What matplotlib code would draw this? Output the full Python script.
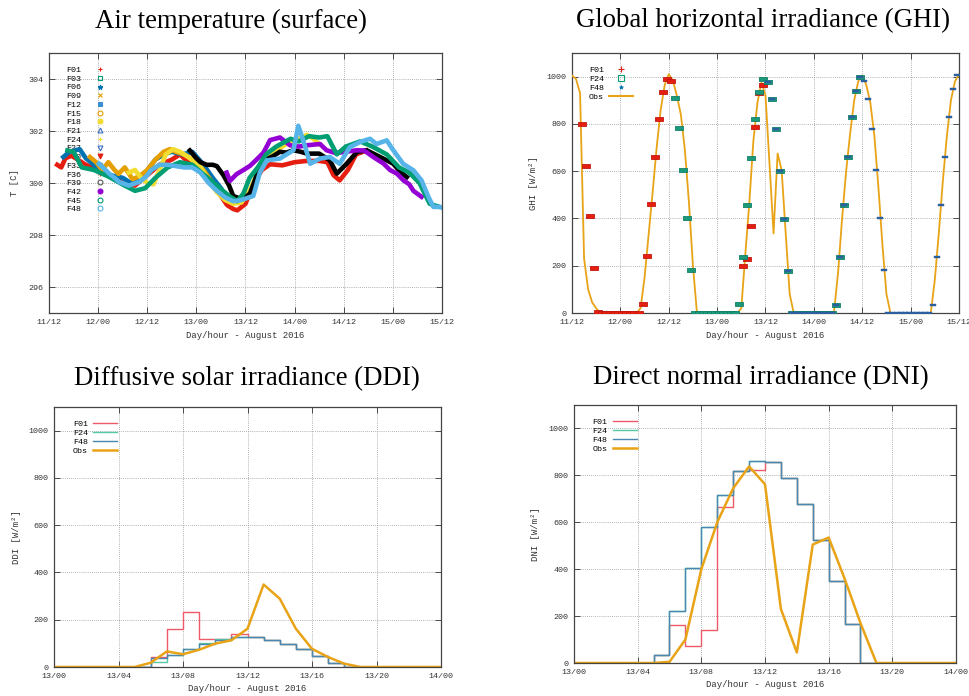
import matplotlib
matplotlib.use("Agg")
import matplotlib.pyplot as plt
from matplotlib.lines import Line2D

MONO = "Liberation Mono"
SERIF = "Liberation Serif"

RED = "#e51e10"
GREEN = "#009e73"
BLUE = "#0072b2"
ORANGE = "#e69f00"
YELLOW = "#f2dc30"
PURPLE = "#9400d3"
LBLUE = "#56b4e9"
OBS = "#e8a317"

# ---------- air temperature, hours after 11 Aug 12:00 ----------
t01_h = [2, 3, 4, 5.5, 7, 9, 12, 15, 18, 21, 24, 27, 30, 32, 34, 36, 38, 40, 42, 43.5,
         45, 46, 48, 50, 52, 54, 57, 60, 63, 66, 68, 69.5, 71, 73, 75, 77.5]
t01_T = [300.7, 300.6, 300.95, 301.05, 300.9, 300.7, 300.5, 300.3, 300.0, 299.9,
         300.3, 300.7, 300.9, 301.1, 300.8, 300.65, 300.4, 300.0, 299.5, 299.15,
         299.0, 298.95, 299.2, 300.0, 300.5, 300.72, 300.68, 300.8, 300.85, 300.85,
         300.8, 300.3, 300.1, 300.5, 301.1, 301.25]

t06_h = [3.5, 5, 7.5, 9, 10.6, 12.2, 15, 18, 20, 22, 23.6, 26, 28, 30, 32.6, 35, 37.5, 40, 42]
t06_T = [301.0, 301.2, 301.3, 300.95, 300.75, 300.5, 300.3, 300.2, 300.0, 300.1,
         300.4, 300.9, 301.1, 301.2, 301.1, 301.2, 300.75, 300.2, 299.8]

t09_h = [10, 11.5, 13, 14.5, 16, 17, 18.5, 20.4, 22, 24, 26, 28, 29.5, 31, 33, 35, 37.7, 40, 42.6, 45]
t09_T = [301.0, 300.8, 300.5, 300.8, 300.5, 300.35, 300.6, 300.15, 300.25, 300.5,
         300.9, 301.2, 301.3, 301.2, 301.1, 300.9, 300.5, 300.0, 299.5, 299.25]

t18_h = [19.5, 21, 22.5, 24, 25.5, 27, 28.5, 30.3, 32, 34, 36.9, 39, 41, 43, 45, 47, 49,
         51, 53, 55, 57, 59, 61, 63, 64.6, 66]
t18_T = [300.4, 300.5, 300.2, 300.0, 299.95, 300.5, 301.1, 301.3, 301.2, 301.0,
         300.65, 300.1, 299.65, 299.35, 299.2, 299.25, 299.7, 300.4, 300.9, 301.2,
         301.4, 301.6, 301.7, 301.85, 301.7, 301.5]

t33_h = [34.4, 36, 37, 38.5, 40, 41, 42.6, 44, 45, 46.7, 48, 49.1, 50.5, 51.5, 53, 54.8,
         56.4, 58, 59.7, 61.5, 63, 66, 68.6, 70.3, 72.7, 75.2, 77.6, 80.9, 84.1, 86, 87.4]
t33_T = [301.25, 300.95, 300.8, 300.7, 300.7, 300.65, 300.3, 299.9, 299.5, 299.4,
         299.45, 299.6, 300.2, 300.66, 300.9, 301.04, 301.2, 301.17, 301.26, 301.2,
         301.13, 301.13, 300.87, 300.36, 300.74, 301.19, 301.26, 301.0, 300.74, 300.4,
         300.23]

t42_h = [43.4, 44.2, 45.8, 47.5, 49.1, 50.7, 52.4, 54, 56.4, 58.9, 61, 63, 66.2, 67.8,
         70, 72.5, 75.2, 77, 79.2, 81.7, 83.3, 85, 86.6, 88, 89, 91]
t42_T = [300.4, 300.08, 300.34, 300.5, 300.66, 300.9, 301.17, 301.65, 301.75, 301.45,
         301.4, 301.45, 301.5, 301.26, 301.15, 301.2, 301.26, 301.25, 301.0, 300.75,
         300.5, 300.36, 300.1, 299.95, 299.7, 299.47]

t45_h = [4.5, 6, 8, 11, 14.5, 18.5, 21, 23.5, 26, 29, 32, 35, 38, 41, 44, 46, 47.5, 49,
         51, 53, 55.5, 59, 61, 63.5, 66, 68, 70.3, 72.5, 76, 79, 82.5, 85.5, 88, 90.5, 93, 95]
t45_T = [301.25, 301.2, 300.6, 300.5, 300.25, 299.9, 299.7, 299.8, 300.2, 300.6,
         300.8, 300.7, 300.3, 299.9, 299.5, 299.3, 299.6, 300.2, 300.6, 301.1,
         301.4, 301.7, 301.6, 301.8, 301.75, 301.8, 301.1, 301.4, 301.6, 301.4,
         301.1, 300.6, 300.4, 300.0, 299.2, 299.1]

t48_h = [12.2, 13.5, 14.7, 16, 17.1, 19.5, 22, 23.6, 25, 27, 29, 31, 33, 35, 37, 39, 41,
         43, 45, 46.65, 48, 49.9, 51.5, 53.2, 56.4, 59.7, 60.9, 62.1, 63.8, 66.2, 68.6,
         71, 73.5, 76, 78.4, 80, 82.5, 84.1, 86.5, 89, 91, 92.7, 93.9, 95.5, 96]
t48_T = [300.74, 300.55, 300.36, 300.2, 300.04, 299.9, 300.04, 300.23, 300.5, 300.7,
         300.7, 300.65, 300.6, 300.6, 300.4, 300.0, 299.7, 299.45, 299.3, 299.33,
         299.4, 299.5, 300.4, 300.87, 300.94, 301.26, 302.2, 301.64, 300.74, 300.94,
         301.0, 300.74, 301.38, 301.58, 301.7, 301.5, 301.64, 301.26, 300.74, 300.49,
         300.1, 299.46, 299.08, 299.08, 299.05]

temp_key = ["F01", "F03", "F06", "F09", "F12", "F15", "F18", "F21", "F24", "F27",
            "F30", "F33", "F36", "F39", "F42", "F45", "F48"]
temp_key_style = [("+", RED, True), ("s", GREEN, False), ("*", BLUE, True), ("x", ORANGE, True),
                  ("s", "#3a8fd0", True), ("o", ORANGE, False), ("o", YELLOW, True),
                  ("^", "#3a70c0", False), ("+", YELLOW, True), ("v", "#3a70c0", False),
                  ("v", RED, True), ("o", "#555555", False), ("+", RED, True),
                  ("o", "#555555", False), ("o", PURPLE, True), ("o", GREEN, False),
                  ("o", LBLUE, False)]

# ---------- GHI, hours after 11 Aug 12:00 ----------
ghi_obs = [1005, 990, 930, 230, 100, 45, 20, 0,
           0, 0, 0, 0, 0, 0, 0, 0, 0,
           20, 150, 330, 510, 700, 860, 965, 1010,
           985, 920, 840, 690, 470, 200, 0,
           0, 0, 0, 0, 0, 0, 0, 0, 0, 0,
           20, 250, 470, 730, 890, 975, 920, 630, 337, 675, 605, 340, 80, 0,
           0, 0, 0, 0, 0, 0, 0, 0, 0,
           5, 170, 400, 600, 760, 900, 980, 1005, 965, 890, 750, 534, 290, 80, 0,
           0, 0, 0, 0, 0, 0, 0, 0, 0,
           0, 140, 340, 560, 750, 900, 980, 1010]
ghi_obs_h = list(range(len(ghi_obs)))

ghi_f01_h = [2.5, 3.5, 4.5, 5.5, 6.5, 7.5, 8.5, 9.5, 10.5, 11.5, 12.5, 13.5, 14.5, 15.5,
             16.5, 17.5, 18.5, 19.5, 20.5, 21.5, 22.5, 23.5, 24.5,
             42.5, 43.5, 44.5, 45.5, 46.5, 47.5]
ghi_f01 = [800, 620, 410, 190, 5, 0, 0, 0, 0, 0, 0, 0, 0, 0,
           0, 40, 240, 460, 660, 822, 935, 990, 980,
           200, 230, 370, 788, 930, 965]

ghi_f24_h = [25.5, 26.5, 27.5, 28.5, 29.5, 30.5, 31.5, 32.5, 33.5, 34.5, 35.5, 36.5, 37.5,
             38.5, 39.5, 40.5, 41.5, 42.5, 43.5, 44.5, 45.5, 46.5, 47.5, 48.5, 49.5, 50.5,
             51.5, 52.5, 53.5, 54.5, 55.5, 56.5, 57.5, 58.5, 59.5, 60.5, 61.5, 62.5, 63.5,
             64.5, 65.5, 66.5, 67.5, 68.5, 69.5, 70.5, 71.5]
ghi_f24 = [908, 781, 605, 400, 181, 0, 0, 0, 0, 0, 0, 0, 0,
           0, 0, 0, 36, 237, 456, 654, 819, 936, 988, 977, 904, 777,
           600, 396, 178, 0, 0, 0, 0, 0, 0, 0, 0, 0, 0,
           0, 35, 239, 459, 661, 828, 941, 997]

ghi_f48_h = [48.5, 49.5, 50.5, 51.5, 52.5, 53.5, 54.5, 55.5, 56.5, 57.5, 58.5, 59.5, 60.5,
             61.5, 62.5, 63.5, 64.5, 65.5, 66.5, 67.5, 68.5, 69.5, 70.5, 71.5, 72.5, 73.5,
             74.5, 75.5, 76.5, 77.5, 78.5, 79.5, 80.5, 81.5, 82.5, 83.5, 84.5, 85.5, 86.5,
             87.5, 88.5, 89.5, 90.5, 91.5, 92.5, 93.5, 94.5, 95.5]
ghi_f48 = [977, 904, 777, 600, 396, 178, 0, 0, 0, 0, 0, 0, 0,
           0, 0, 0, 0, 35, 239, 459, 661, 828, 941, 997, 983, 906,
           777, 605, 400, 181, 0, 0, 0, 0, 0, 0, 0, 0, 0,
           0, 0, 32, 237, 459, 661, 828, 946, 1007]

top_ticks = [0, 12, 24, 36, 48, 60, 72, 84, 96]
top_labels = ["11/12", "12/00", "12/12", "13/00", "13/12", "14/00", "14/12", "15/00", "15/12"]

# ---------- DDI / DNI, hours of 13 Aug ----------
day_h = list(range(25))
ddi_f01 = [0, 0, 0, 0, 0, 0, 42, 161, 232, 120, 117, 138, 125, 116, 98, 77, 45, 15, 2, 0, 0, 0, 0, 0, 0]
ddi_f24 = [0, 0, 0, 0, 0, 0, 20, 52, 78, 100, 118, 127, 125, 116, 98, 77, 45, 15, 2, 0, 0, 0, 0, 0, 0]
ddi_f48 = [0, 0, 0, 0, 0, 0, 38, 50, 75, 98, 115, 125, 125, 116, 98, 77, 45, 15, 2, 0, 0, 0, 0, 0, 0]
ddi_obs = [0, 0, 0, 0, 0, 0, 18, 66, 54, 73, 99, 113, 162, 349, 289, 162, 77, 42, 14, 0, 0, 0, 0, 0, 0]

dni_f01 = [0, 0, 0, 0, 0, 35, 160, 72, 140, 667, 817, 825, 855, 790, 677, 524, 348, 165, 0, 0, 0, 0, 0, 0, 0]
dni_f24 = [0, 0, 0, 0, 0, 35, 220, 405, 578, 718, 817, 862, 855, 790, 677, 524, 348, 165, 0, 0, 0, 0, 0, 0, 0]
dni_f48 = [0, 0, 0, 0, 0, 35, 220, 405, 578, 718, 817, 862, 855, 790, 677, 524, 348, 165, 0, 0, 0, 0, 0, 0, 0]
dni_obs = [0, 0, 0, 0, 0, 0, 5, 100, 400, 600, 745, 838, 762, 230, 45, 505, 535, 360, 170, 0, 0, 0, 0, 0, 0]

day_ticks = [0, 4, 8, 12, 16, 20, 24]
day_labels = ["13/00", "13/04", "13/08", "13/12", "13/16", "13/20", "14/00"]
irr_ticks = [0, 200, 400, 600, 800, 1000]

W, H = 970, 696
fig = plt.figure(figsize=(W / 100, H / 100), dpi=100)


def rect(l, t, r, b):
    return [l / W, 1 - b / H, (r - l) / W, (b - t) / H]


def style(ax):
    ax.grid(True, color="#9a9a9a", ls=(0, (1, 1.5)), lw=0.6)
    ax.set_axisbelow(True)
    for s in ax.spines.values():
        s.set_color("#444444")
        s.set_linewidth(0.9)
    ax.tick_params(direction="in", length=4, width=0.6, top=True, right=True,
                   labelsize=6, colors="#333333", pad=4)
    for lab in ax.get_xticklabels() + ax.get_yticklabels():
        lab.set_family(MONO)


def labels(ax, xl, yl, xly, ylx):
    ax.set_xlabel(xl, family=MONO, fontsize=6.5, color="#333333", va="center")
    ax.set_ylabel(yl, family=MONO, fontsize=6.5, color="#333333", va="center")
    ax.xaxis.set_label_coords(0.5, xly)
    ax.yaxis.set_label_coords(ylx, 0.5)


# ---- Air temperature ----
ax1 = fig.add_axes(rect(49, 53, 442, 313))
lw = 3.3
ax1.plot(t01_h, t01_T, color=RED, lw=lw, zorder=2)
ax1.plot(t06_h, t06_T, color=BLUE, lw=lw, zorder=2)
ax1.plot(t09_h, t09_T, color=ORANGE, lw=lw, zorder=2)
ax1.plot(t18_h, t18_T, color=YELLOW, lw=lw, zorder=2)
ax1.plot(t33_h, t33_T, color="black", lw=lw, zorder=2)
ax1.plot(t42_h, t42_T, color=PURPLE, lw=lw, zorder=2)
ax1.plot(t45_h, t45_T, color=GREEN, lw=lw, zorder=2)
ax1.plot(t48_h, t48_T, color=LBLUE, lw=lw, zorder=2)
ax1.set_xlim(0, 96)
ax1.set_ylim(295, 305)
ax1.set_xticks(top_ticks)
ax1.set_xticklabels(top_labels)
ax1.set_yticks([296, 298, 300, 302, 304])
style(ax1)
labels(ax1, "Day/hour - August 2016", "T [C]", -0.088, -0.087)
handles = [Line2D([], [], ls="none", marker=m, color=c, markerfacecolor=(c if f else "none"),
                  markersize=3.5, markeredgewidth=0.8) for m, c, f in temp_key_style]
leg = ax1.legend(handles, temp_key, loc="upper left", bbox_to_anchor=(0.036, 0.962),
                 frameon=False, markerfirst=False, handlelength=1.0, handletextpad=1.7,
                 labelspacing=0.105, borderaxespad=0, prop={"family": MONO, "size": 6})
leg.set_zorder(1)

# ---- GHI ----
ax2 = fig.add_axes(rect(572, 53, 959, 313))
ax2.plot(ghi_obs_h, ghi_obs, color=OBS, lw=1.3, zorder=3)
hbar = [(-2, -1), (2, -1), (2, 1), (-2, 1), (-2, -1)]
ax2.plot(ghi_f01_h, ghi_f01, ls="none", marker=hbar, ms=5.2, color=RED, mec="#c01810",
         mew=0.6, zorder=4)
ax2.plot(ghi_f24_h, ghi_f24, ls="none", marker=hbar, ms=6.2, color="#1a9a78", mec="#12806a",
         mew=0.6, zorder=5)
ax2.plot(ghi_f48_h, ghi_f48, ls="none", marker=hbar, ms=3.8, color="#2a5fa0", mec="#2a5fa0",
         mew=0.3, zorder=6)
ax2.set_xlim(0, 96)
ax2.set_ylim(0, 1100)
ax2.set_xticks(top_ticks)
ax2.set_xticklabels(top_labels)
ax2.set_yticks(irr_ticks)
style(ax2)
labels(ax2, "Day/hour - August 2016", "GHI [W/m\u00b2]", -0.088, -0.10)
ghi_handles = [Line2D([], [], ls="none", marker="+", color=RED, markersize=4, mew=0.8),
               Line2D([], [], ls="none", marker="s", color=GREEN, mfc="none", markersize=4, mew=0.8),
               Line2D([], [], ls="none", marker="*", color=BLUE, markersize=3, mew=0.5),
               Line2D([], [], color=OBS, lw=1.5)]
ax2.legend(ghi_handles, ["F01", "F24", "F48", "Obs"], loc="upper left",
           bbox_to_anchor=(0.035, 0.962), frameon=False, markerfirst=False,
           handlelength=2.9, handletextpad=0.6, labelspacing=0.13, borderaxespad=0,
           prop={"family": MONO, "size": 6})

# ---- DDI ----
ax3 = fig.add_axes(rect(54, 407, 441, 667))
ax3.step(day_h, ddi_f01, where="post", color="#ee5a66", lw=1.0)
ax3.step(day_h, ddi_f24, where="post", color="#55c8a8", lw=1.0)
ax3.step(day_h, ddi_f48, where="post", color="#4a88b0", lw=1.0)
ax3.plot(day_h, ddi_obs, color=OBS, lw=1.8)
ax3.set_xlim(0, 24)
ax3.set_ylim(0, 1100)
ax3.set_xticks(day_ticks)
ax3.set_xticklabels(day_labels)
ax3.set_yticks(irr_ticks)
style(ax3)
labels(ax3, "Day/hour - August 2016", "DDI [W/m\u00b2]", -0.083, -0.098)

# ---- DNI ----
ax4 = fig.add_axes(rect(574, 405, 956, 663))
ax4.step(day_h, dni_f01, where="post", color="#ee5a66", lw=1.0)
ax4.step(day_h, dni_f24, where="post", color="#55c8a8", lw=1.0)
ax4.step(day_h, dni_f48, where="post", color="#4a88b0", lw=1.0)
ax4.plot(day_h, dni_obs, color=OBS, lw=1.8)
ax4.set_xlim(0, 24)
ax4.set_ylim(0, 1100)
ax4.set_xticks(day_ticks)
ax4.set_xticklabels(day_labels)
ax4.set_yticks(irr_ticks)
style(ax4)
labels(ax4, "Day/hour - August 2016", "DNI [W/m\u00b2]", -0.085, -0.10)

for ax in (ax3, ax4):
    ax.legend(["F01", "F24", "F48", "Obs"], loc="upper left", bbox_to_anchor=(0.04, 0.962),
              frameon=False, markerfirst=False, handlelength=2.9, handletextpad=0.6,
              labelspacing=0.13, borderaxespad=0, prop={"family": MONO, "size": 6})

fig.text(231 / W, 1 - 21 / H, "Air temperature (surface)", family=SERIF, fontsize=19.3,
         ha="center", va="center")
fig.text(763 / W, 1 - 21 / H, "Global horizontal irradiance (GHI)", family=SERIF, fontsize=19.3,
         ha="center", va="center")
fig.text(247 / W, 1 - 379 / H, "Diffusive solar irradiance (DDI)", family=SERIF, fontsize=19.3,
         ha="center", va="center")
fig.text(761 / W, 1 - 378 / H, "Direct normal irradiance (DNI)", family=SERIF, fontsize=19.3,
         ha="center", va="center")

fig.savefig("out.png", dpi=100)
